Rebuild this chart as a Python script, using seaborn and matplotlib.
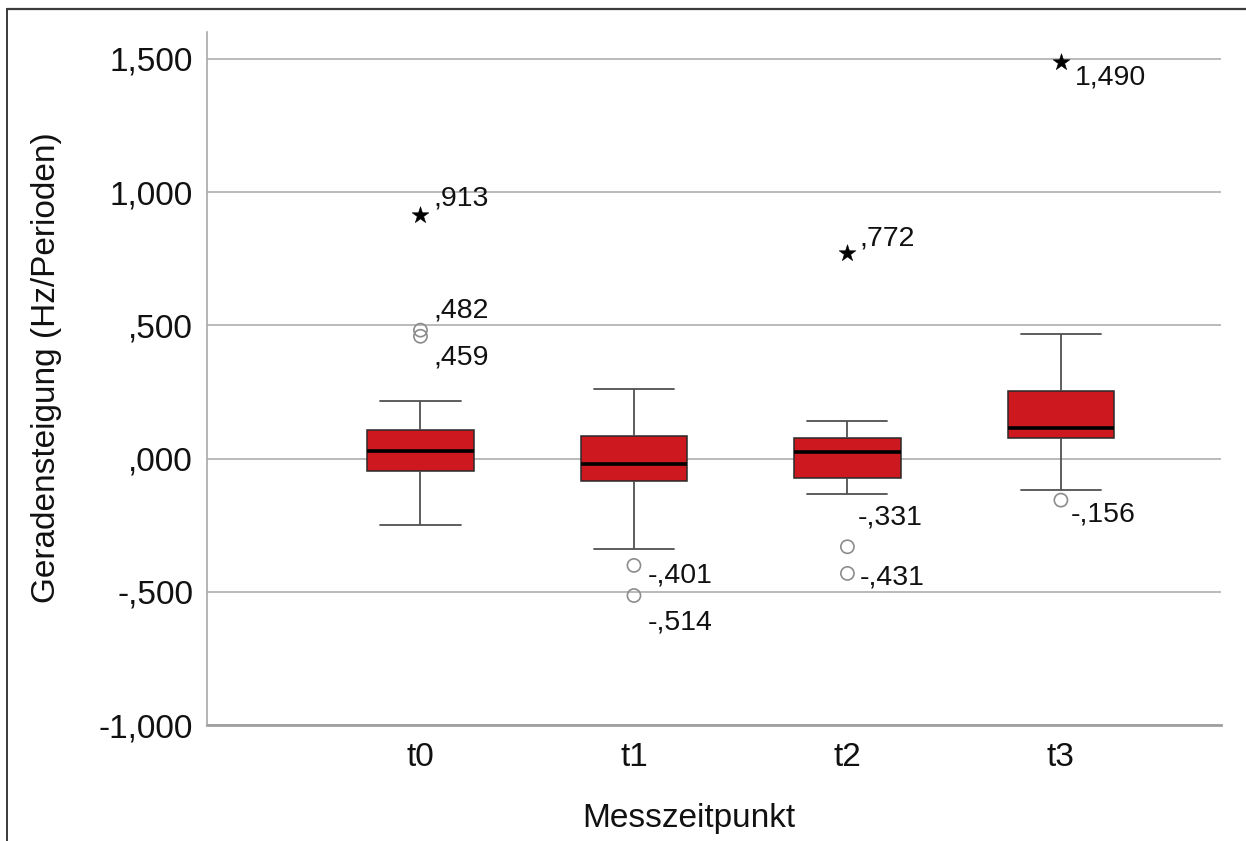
import numpy as np
import pandas as pd
import matplotlib
matplotlib.use("Agg")
import matplotlib.pyplot as plt
from matplotlib.lines import Line2D
from matplotlib.ticker import FuncFormatter, FixedLocator
import seaborn as sns

# ---- data ---------------------------------------------------------------
groups = ["t0", "t1", "t2", "t3"]
whisker_low = [-0.249, -0.339, -0.133, -0.119]
quartile_1 = [-0.048, -0.083, -0.074, 0.078]
medians = [0.030, -0.019, 0.024, 0.114]
quartile_3 = [0.109, 0.084, 0.078, 0.253]
whisker_high = [0.215, 0.261, 0.141, 0.468]

# mild outliers (circles) and extreme values (stars)
outlier_groups = ["t0", "t0", "t1", "t1", "t2", "t2", "t3"]
outlier_values = [0.482, 0.459, -0.401, -0.514, -0.331, -0.431, -0.156]
extreme_groups = ["t0", "t2", "t3"]
extreme_values = [0.913, 0.772, 1.490]

y_ticks = [-1.0, -0.5, 0.0, 0.5, 1.0, 1.5]
x_title = "Messzeitpunkt"
y_title = "Geradensteigung (Hz/Perioden)"

# ---- label placement (pixel offsets from each marker) ---------------------
outlier_label_offsets = [(13, 13), (13, -28), (14, -17), (14, -34),
                         (10, 22), (12, -11), (10, -21)]
extreme_label_offsets = [(13, 10), (12, 7), (14, -23)]

# ---- style --------------------------------------------------------------
RED = "#CC181E"
GRID = "#b4b4b4"

sns.set_theme(style="white")
plt.rcParams["font.family"] = ["Liberation Sans", "DejaVu Sans"]


def spss_number(v, _pos=None):
    """Format numbers the SPSS/German way: ',913', '-,331', '1,490'."""
    s = f"{abs(v):.3f}".replace(".", ",")
    if s.startswith("0"):
        s = s[1:]
    return ("-" if v < 0 else "") + s


# five-number summary per group as a long-form frame
rows = []
for g, lo, q1, md, q3, hi in zip(groups, whisker_low, quartile_1, medians,
                                 quartile_3, whisker_high):
    for v in (lo, q1, md, q3, hi):
        rows.append({x_title: g, "Wert": v})
box_df = pd.DataFrame(rows)

W, H = 1246, 841
fig = plt.figure(figsize=(W / 100, H / 100), dpi=100)
fig.patch.set_facecolor("white")
ax = fig.add_axes([207 / W, 1 - 725 / H, (1221 - 207) / W, (725 - 32) / H])

sns.boxplot(
    data=box_df, x=x_title, y="Wert", order=groups, ax=ax,
    whis=(0, 100), width=0.5, color=RED, saturation=1,
    linecolor="#2a2a2a", linewidth=1.1, showfliers=False,
    capwidths=0.375,
    medianprops={"color": "black", "linewidth": 2.6},
    whiskerprops={"color": "#505050", "linewidth": 1.3},
    capprops={"color": "#505050", "linewidth": 1.3},
    zorder=3,
)

pos = {g: i for i, g in enumerate(groups)}
out_x = [pos[g] for g in outlier_groups]
ext_x = [pos[g] for g in extreme_groups]

sns.scatterplot(x=out_x, y=outlier_values, ax=ax, marker="o", s=90,
                color="none", edgecolor="#8c8c8c", linewidth=1.2, zorder=4)
sns.scatterplot(x=ext_x, y=extreme_values, ax=ax, marker="*", s=160,
                color="black", edgecolor="black", linewidth=0.4, zorder=4)

for x, v, (dx, dy) in zip(out_x, outlier_values, outlier_label_offsets):
    ax.annotate(spss_number(v), xy=(x, v), xytext=(dx, dy),
                textcoords="offset pixels", ha="left", va="baseline",
                fontsize=20.5, color="#111111")
for x, v, (dx, dy) in zip(ext_x, extreme_values, extreme_label_offsets):
    ax.annotate(spss_number(v), xy=(x, v), xytext=(dx, dy),
                textcoords="offset pixels", ha="left", va="baseline",
                fontsize=20.5, color="#111111")

# ---- axes ---------------------------------------------------------------
ax.set_xlim(-1.0, 3.75)
ax.set_ylim(-1.0, 1.601)
ax.yaxis.set_major_locator(FixedLocator(y_ticks))
ax.yaxis.set_major_formatter(FuncFormatter(spss_number))
ax.grid(axis="y", color=GRID, linewidth=1.3, zorder=0)
ax.grid(axis="x", visible=False)
ax.set_axisbelow(True)
ax.set_xlabel("")
ax.set_ylabel("")
ax.tick_params(axis="both", length=0, labelsize=24, colors="#111111")
ax.tick_params(axis="y", pad=10)
ax.tick_params(axis="x", pad=12)
for side in ("top", "right"):
    ax.spines[side].set_visible(False)
ax.spines["left"].set_color("#a8a8a8")
ax.spines["left"].set_linewidth(1.2)
ax.spines["bottom"].set_color("#a0a0a0")
ax.spines["bottom"].set_linewidth(2.0)

fig.text(688.5 / W, 1 - 827 / H, x_title, ha="center", va="baseline",
         fontsize=24, color="#111111")
fig.text(47 / W, 1 - 368 / H, y_title, ha="center", va="center",
         rotation=90, fontsize=24, color="#111111")

# outer frame (top and left edges)
fig.add_artist(Line2D([7 / W, 1.0], [1 - 8.5 / H, 1 - 8.5 / H],
                      transform=fig.transFigure, color="#3a3a3a", linewidth=1.6))
fig.add_artist(Line2D([7 / W, 7 / W], [0.0, 1 - 8.5 / H],
                      transform=fig.transFigure, color="#3a3a3a", linewidth=1.4))

fig.savefig("out.png", dpi=100, facecolor="white")
